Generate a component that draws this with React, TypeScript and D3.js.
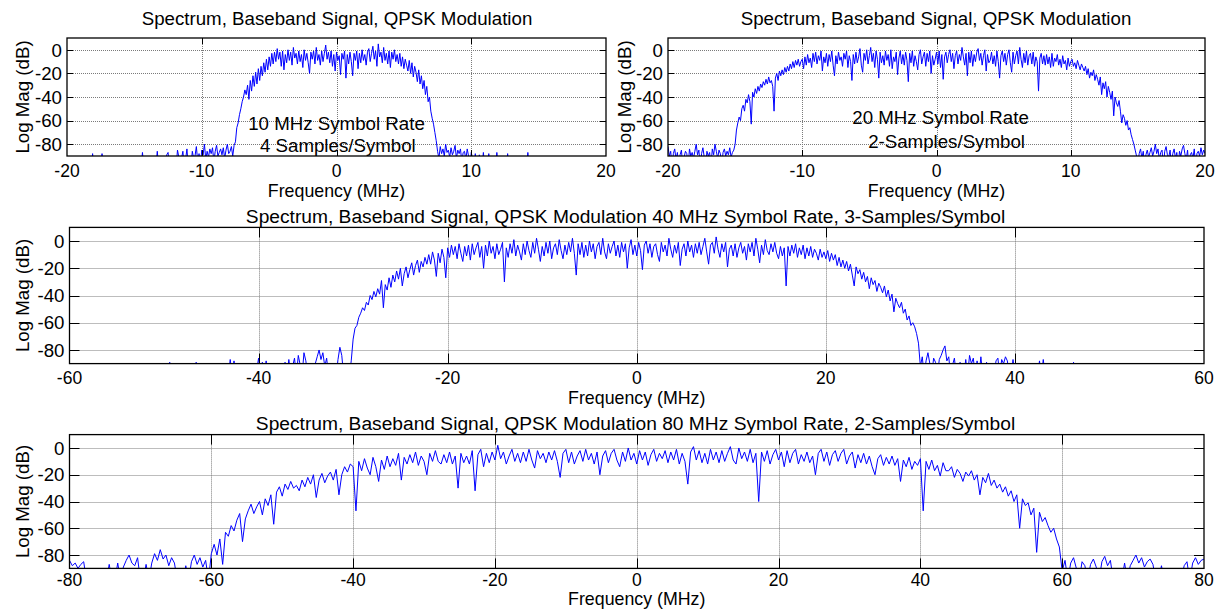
import React from "react";
import * as d3 from "d3";

const FONT = "'Liberation Sans', Arial, Helvetica, sans-serif";
const FS = 18.7;
const XTICK_FS = 17.5;
const XLABEL_FS = 17.8;

const yTicks = [0, -20, -40, -60, -80];
const yDomain = [-90, 10];
const xTicksA = [-20, -10, 0, 10, 20];
const xTicks3 = [-60, -40, -20, 0, 20, 40, 60];
const xTicks4 = [-80, -60, -40, -20, 0, 20, 40, 60, 80];

const titleA = "Spectrum, Baseband Signal, QPSK Modulation";
const title3 = "Spectrum, Baseband Signal, QPSK Modulation 40 MHz Symbol Rate, 3-Samples/Symbol";
const title4 = "Spectrum, Baseband Signal, QPSK Modulation 80 MHz Symbol Rate, 2-Samples/Symbol";
const xLabel = "Frequency (MHz)";
const yLabel = "Log Mag (dB)";
const note1 = ["10 MHz Symbol Rate", "4 Samples/Symbol"];
const note2 = ["20 MHz Symbol Rate", "2-Samples/Symbol"];

// Panel 1: bins start at -18.5 MHz, 0.1 MHz spacing
const start1 = -18.5;
const bin1 = 0.1;
const mag1 = [
  -99, -99, -99, -99, -88, -99, -99, -99, -99, -99,
  -99, -88, -99, -99, -99, -99, -99, -99, -99, -99,
  -99, -99, -99, -99, -99, -99, -99, -99, -99, -99,
  -99, -99, -99, -99, -99, -99, -99, -99, -99, -99,
  -99, -87, -99, -99, -99, -99, -99, -99, -99, -99,
  -99, -99, -86, -99, -99, -99, -99, -99, -99, -89,
  -87, -99, -99, -99, -99, -99, -99, -85, -91, -99,
  -92, -86, -99, -93, -84, -99, -95, -99, -86, -92,
  -90, -82, -95, -88, -99, -85, -89, -80, -93, -86,
  -91, -84, -88, -83, -95, -86, -81, -90, -87, -84,
  -89, -83, -92, -85, -80, -88, -86, -82, -90, -81,
  -78, -66, -62, -55, -50, -44, -40, -34, -38, -30,
  -42, -26, -35, -22, -31, -19, -29, -16, -26, -14,
  -22, -11, -19, -8, -17, -6, -14, -3, -12, -2,
  -10, 1, -8, -2, -14, -1, -17, -4, -11, 0,
  -9, -2, -13, 2, -7, -3, -12, -1, -10, -4,
  -15, 0, -9, -3, -11, -20, -2, -8, -1, -12,
  2, -9, -4, -13, -1, -10, -3, 4, -8, -2,
  -11, -1, -14, -4, -18, -2, -9, -5, -21, -3,
  -8, -1, -24, -4, -12, -2, -10, -22, -3, -9,
  -1, -16, -3, -11, 0, -9, -4, -13, -2, 1,
  -10, -3, 3, -8, -1, -14, 5, -6, -2, -11,
  2, -9, -3, -12, -1, -15, -2, -8, 0, -10,
  -4, -12, -3, -14, -6, -16, -8, -13, -18, -9,
  -20, -11, -23, -14, -19, -27, -17, -29, -22, -33,
  -26, -38, -31, -44, -40, -52, -58, -63, -70, -77,
  -86, -92, -82, -88, -84, -90, -80, -87, -85, -91,
  -83, -89, -86, -81, -92, -85, -88, -84, -95, -87,
  -86, -93, -84, -90, -99, -87, -92, -99, -88, -99,
  -99, -89, -99, -99, -87, -99, -99, -99, -88, -99,
  -99, -99, -99, -99, -87, -99, -99, -99, -99, -99,
  -99, -99, -88, -99, -99, -99, -99, -99, -99, -99,
  -99, -99, -99, -99, -99, -99, -99, -87, -99, -99,
  -99, -99, -99, -99, -99, -99,
];

// Panel 2: bins start at -20 MHz, 0.1 MHz spacing
const start2 = -20;
const bin2 = 0.1;
const mag2 = [
  -82, -90, -86, -99, -88, -84, -93, -87, -99, -89,
  -85, -99, -91, -86, -88, -99, -84, -90, -87, -92,
  -86, -80, -89, -85, -99, -88, -83, -91, -99, -86,
  -90, -87, -99, -84, -89, -80, -86, -92, -85, -88,
  -99, -87, -84, -90, -86, -89, -83, -91, -87, -85,
  -80, -68, -62, -57, -60, -50, -47, -52, -42, -45,
  -38, -44, -63, -36, -40, -33, -37, -31, -35, -29,
  -32, -27, -30, -25, -29, -23, -28, -26, -31, -52,
  -24, -20, -26, -18, -22, -17, -21, -15, -19, -14,
  -18, -12, -16, -10, -15, -9, -13, -8, -14, -10,
  -8, -16, -6, -13, -4, -11, -7, -15, -3, -10,
  -2, -12, -5, -9, -1, -18, -6, -11, -3, -14,
  -4, -10, -1, -13, -22, -5, -12, -2, -9, -6,
  -14, -3, -8, -1, -15, -5, -10, -26, -4, -12,
  -2, -11, -6, 1, -13, -19, -3, -9, 0, -12,
  -5, 2, -10, -3, -15, -1, -8, -24, -2, -11,
  -5, -13, -1, -9, -4, -14, 0, -16, -6, -10,
  -2, -21, -7, -1, -12, -4, -13, -2, -9, -27,
  -3, -11, -1, -14, -5, -10, -17, -4, 0, -12,
  -6, -2, -14, -3, -10, -1, -20, -5, -13, -8,
  -2, -12, -1, -15, -4, -25, -6, -2, -11, -4,
  0, -10, -3, -16, -5, -1, -12, -4, -9, 2,
  -6, -13, -3, -22, -2, -11, -1, -14, -4, -10,
  -2, 1, -9, -3, -13, -5, 0, -18, -4, -11,
  -9, -2, -12, -5, -14, -1, -10, -24, -5, -1,
  -10, -3, -13, -4, 0, -11, -19, -2, -12, -5,
  -1, -12, 2, -8, -15, -3, -11, -1, -13, -5,
  -3, -12, -2, -14, -6, -10, -35, -7, -3, -12,
  -5, -13, -4, -12, -6, -15, -3, -14, -7, -10,
  -4, -13, -8, -15, -5, -12, -9, -17, -7, -14,
  -10, -8, -14, -11, -16, -9, -13, -17, -12, -15,
  -18, -14, -21, -16, -24, -19, -22, -17, -26, -21,
  -25, -30, -23, -38, -28, -33, -27, -40, -31, -36,
  -42, -35, -56, -40, -45, -48, -43, -52, -62, -55,
  -58, -64, -60, -68, -66, -72, -76, -80, -85, -90,
  -95, -88, -84, -92, -86, -99, -89, -85, -91, -87,
  -83, -90, -86, -80, -88, -84, -93, -87, -85, -99,
  -86, -82, -89, -91, -85, -99, -88, -84, -92, -87,
  -99, -86, -90, -84, -81, -88, -93, -85, -99, -89,
  -87, -92, -84, -99, -88, -86, -90, -83, -89, -85, -88,
];

// Panel 3: bins start at -50 MHz, 0.2 MHz spacing
const start3 = -50;
const bin3 = 0.2;
const mag3 = [
  -99, -99, -99, -89, -99, -99, -99, -99, -99, -99,
  -99, -99, -99, -99, -99, -99, -99, -89, -99, -99,
  -99, -99, -99, -99, -99, -99, -99, -99, -99, -99,
  -99, -99, -99, -99, -99, -87, -99, -88, -99, -99,
  -99, -99, -99, -99, -99, -99, -99, -99, -99, -95,
  -86, -99, -89, -99, -88, -99, -99, -99, -99, -99,
  -99, -99, -99, -99, -89, -99, -87, -99, -92, -86,
  -99, -84, -91, -99, -82, -88, -99, -99, -99, -99,
  -90, -85, -80, -87, -82, -92, -86, -99, -99, -99,
  -99, -99, -87, -78, -84, -99, -95, -99, -99, -88,
  -72, -64, -62, -56, -53, -49, -51, -45, -47, -40,
  -43, -37, -41, -35, -39, -29, -49, -32, -36, -27,
  -34, -25, -30, -22, -28, -20, -33, -24, -19, -27,
  -21, -16, -25, -18, -14, -23, -15, -19, -12, -17,
  -10, -17, -8, -14, -26, -9, -16, -6, -12, -27,
  -5, -12, -3, -10, -4, -13, -2, -9, -15, -4,
  -11, -3, -14, -2, -10, -5, -1, -12, -4, -20,
  -3, -11, 0, -9, -4, -13, -2, -10, -6, -1,
  -30, -5, -12, -2, -9, 1, -11, -3, -8, -14,
  -2, -10, 0, -7, -12, -1, -9, 2, -6, -15,
  -4, -11, -1, -9, 0, -13, -5, -2, -10, 1,
  -7, -13, -3, -10, -1, -8, 2, -9, -25, -2,
  -10, -1, -12, -3, -11, 0, -8, -2, -13, -4,
  -1, -10, 2, -8, -13, -2, -9, -4, 0, -11,
  -3, -12, -1, -8, -2, -20, -5, 1, -10, -3,
  -11, -1, -7, -21, -3, 0, -9, -2, -12, -4,
  -2, -10, -15, -1, -8, -3, -11, 2, -6, -12,
  -3, -9, -1, -18, -6, -2, -11, 0, -8, -3,
  -12, -2, -9, -1, -10, -4, 2, -8, -17, -3,
  -1, -9, 3, -6, -12, -2, -8, -1, -19, -6,
  -3, -11, -2, -12, -5, -1, -9, -4, -14, -2,
  -8, -1, -11, 2, -6, -16, -3, -10, 1, -7,
  -10, -2, -8, -1, -9, -13, -4, -11, -5, -33,
  -4, -11, -3, -9, -2, -12, -5, -10, -3, -13,
  -5, -11, -4, -12, -6, -9, -14, -6, -12, -8,
  -13, -7, -15, -9, -14, -10, -18, -12, -19, -14,
  -20, -15, -22, -17, -25, -33, -19, -24, -21, -28,
  -23, -30, -26, -35, -27, -32, -29, -37, -31, -34,
  -38, -33, -41, -36, -44, -39, -52, -42, -46, -49,
  -45, -53, -50, -58, -55, -62, -60, -63, -68, -75,
  -92, -85, -99, -88, -82, -90, -99, -86, -89, -99,
  -87, -84, -80, -77, -88, -85, -99, -91, -86, -99,
  -99, -89, -99, -99, -87, -99, -84, -90, -86, -99,
  -88, -99, -85, -99, -99, -89, -99, -99, -99, -99,
  -88, -86, -99, -87, -90, -85, -88, -99, -99, -87,
  -99, -99, -99, -99, -99, -99, -99, -99, -99, -99,
  -99, -99, -99, -88, -99, -87, -99, -99, -99, -99,
  -99, -99, -99, -99, -99, -99, -99, -99, -99, -99,
  -99, -89, -99, -99, -99, -99, -99, -99, -99, -99,
];

// Panel 4: bins start at -80 MHz, 0.4 MHz spacing
const start4 = -80;
const bin4 = 0.4;
const mag4 = [
  -84, -88, -86, -90, -87, -85, -99, -99, -99, -99,
  -99, -99, -99, -99, -87, -99, -99, -86, -99, -89,
  -84, -80, -86, -88, -82, -99, -99, -87, -99, -86,
  -79, -84, -76, -83, -80, -88, -82, -86, -99, -99,
  -99, -88, -99, -85, -80, -87, -82, -89, -84, -99,
  -79, -72, -80, -68, -87, -63, -66, -58, -62, -54,
  -49, -70, -53, -47, -42, -49, -44, -40, -50, -38,
  -43, -35, -57, -33, -29, -36, -27, -31, -25, -30,
  -28, -32, -24, -29, -22, -27, -20, -37, -24, -19,
  -26, -21, -18, -24, -16, -35, -20, -14, -18, -12,
  -14, -47, -10, -17, -8, -15, -20, -7, -14, -25,
  -9, -16, -6, -14, -8, -13, -4, -24, -7, -12,
  -5, -11, -3, -13, -6, -10, -20, -4, -10, -2,
  -10, -12, -5, -11, -3, -12, -6, -30, -4, -11,
  -6, -12, -2, -32, -5, -1, -14, -4, -11, -3,
  -9, 2, -8, -3, -12, -6, -1, -10, -4, -11,
  -3, -10, -1, -9, -15, -2, -8, -4, -11, -3,
  -9, -2, -10, -22, -4, -1, -11, -3, -12, -6,
  -2, -10, -1, -9, -4, -12, -3, -20, -6, -2,
  -11, -4, -1, -9, -14, -3, -10, 0, -9, -4,
  -12, -2, -9, -3, -13, -5, -1, -10, -4, -8,
  -2, -11, -3, -9, -1, -12, -4, -10, -27, -3,
  1, -9, -2, -11, -4, -12, -1, -9, -3, -11,
  -2, -10, -4, 1, -9, -12, 0, -8, -3, -10,
  -1, -11, -4, -40, -3, -10, -2, -12, -5, -1,
  -9, -3, -14, -2, -11, -4, -1, -12, -5, -10,
  -3, -11, -6, -20, -4, -1, -10, -3, -13, -5,
  -2, -10, -4, -1, -12, -6, -3, -15, -5, -11,
  -4, -12, -6, -14, -20, -8, -5, -13, -7, -12,
  -6, -13, -8, -25, -9, -14, -7, -16, -10, -13,
  -8, -47, -10, -16, -9, -17, -13, -21, -11, -17,
  -17, -14, -22, -16, -19, -25, -18, -21, -17, -24,
  -20, -35, -22, -26, -19, -28, -24, -30, -27, -33,
  -29, -36, -32, -40, -35, -60, -38, -43, -41, -50,
  -45, -78, -48, -55, -52, -58, -63, -60, -68, -74,
  -92, -84, -99, -86, -82, -90, -99, -85, -88, -99,
  -87, -83, -89, -99, -85, -81, -88, -84, -99, -90,
  -99, -99, -86, -99, -88, -84, -80, -86, -82, -89,
  -85, -83, -87, -99, -99, -88, -99, -99, -99, -99,
  -99, -99, -99, -88, -85, -99, -86, -82, -87, -84,
  -83,
];

type Note = { text: string; f: number; db: number };

type PanelProps = {
  id: string;
  left: number;
  right: number;
  top: number;
  bottom: number;
  xTicks: number[];
  start: number;
  bin: number;
  mag: number[];
  title: string;
  titleX: number;
  titleY: number;
  titleFs: number;
  tickLen: number;
  yLabelX: number;
  tickLabelDy: number;
  xLabelDy: number;
  notes?: Note[];
};

const snap = (v: number) => Math.round(v) + 0.5;

function Panel(p: PanelProps) {
  const xDom = [p.xTicks[0], p.xTicks[p.xTicks.length - 1]];
  const xs = d3.scaleLinear().domain(xDom).range([p.left, p.right]);
  const ys = d3.scaleLinear().domain(yDomain).range([p.bottom, p.top]);
  const line = d3
    .line<number>()
    .x((_d, i) => xs(p.start + i * p.bin))
    .y((d) => ys(d));
  const path = line(p.mag) || "";
  const inner = p.xTicks.slice(1, -1);
  const midY = (p.top + p.bottom) / 2;
  const gridStyle = { stroke: "#7a7a7a", strokeWidth: 1, strokeDasharray: "1 1" };
  return (
    <g>
      <defs>
        <clipPath id={p.id}>
          <rect x={p.left} y={p.top} width={p.right - p.left} height={p.bottom - p.top} />
        </clipPath>
      </defs>
      {inner.map((t) => (
        <line key={"gx" + t} x1={snap(xs(t))} x2={snap(xs(t))} y1={p.top} y2={p.bottom} {...gridStyle} />
      ))}
      {yTicks.map((t) => (
        <line key={"gy" + t} x1={p.left} x2={p.right} y1={snap(ys(t))} y2={snap(ys(t))} {...gridStyle} />
      ))}
      <path d={path} fill="none" stroke="#0000ff" strokeWidth={1} clipPath={`url(#${p.id})`} />
      {inner.map((t) => (
        <g key={"tx" + t}>
          <line x1={snap(xs(t))} x2={snap(xs(t))} y1={p.bottom} y2={p.bottom - p.tickLen} stroke="#000" strokeWidth={1} />
          <line x1={snap(xs(t))} x2={snap(xs(t))} y1={p.top} y2={p.top + p.tickLen} stroke="#000" strokeWidth={1} />
        </g>
      ))}
      {yTicks.map((t) => (
        <g key={"ty" + t}>
          <line x1={p.left} x2={p.left + p.tickLen} y1={snap(ys(t))} y2={snap(ys(t))} stroke="#000" strokeWidth={1} />
          <line x1={p.right} x2={p.right - p.tickLen} y1={snap(ys(t))} y2={snap(ys(t))} stroke="#000" strokeWidth={1} />
        </g>
      ))}
      <rect
        x={p.left}
        y={p.top}
        width={p.right - p.left}
        height={p.bottom - p.top}
        fill="none"
        stroke="#000"
        strokeWidth={1.3}
      />
      {p.xTicks.map((t) => (
        <text key={"lx" + t} x={xs(t)} y={p.bottom + p.tickLabelDy} textAnchor="middle" fontSize={XTICK_FS}>
          {t}
        </text>
      ))}
      {yTicks.map((t) => (
        <text key={"ly" + t} x={p.left - 5} y={ys(t) + 6.7} textAnchor="end">
          {t}
        </text>
      ))}
      <text x={p.titleX} y={p.titleY} textAnchor="middle" fontSize={p.titleFs}>
        {p.title}
      </text>
      <text x={xs(0)} y={p.bottom + p.xLabelDy} textAnchor="middle" fontSize={XLABEL_FS}>
        {xLabel}
      </text>
      <text transform={`translate(${p.yLabelX},${midY}) rotate(-90)`} textAnchor="middle">
        {yLabel}
      </text>
      {(p.notes || []).map((n, i) => (
        <text key={"n" + i} x={xs(n.f)} y={ys(n.db) + 6.7} textAnchor="middle">
          {n.text}
        </text>
      ))}
    </g>
  );
}

export default function App() {
  return (
    <svg
      width={1222}
      height={609}
      style={{ position: "absolute", left: 0, top: 0, background: "#fff" }}
      fontFamily={FONT}
      fontSize={FS}
      fill="#000"
    >
      <rect x={0} y={0} width={1222} height={609} fill="#fff" />
      <Panel
        id="c1"
        left={67}
        right={606}
        top={38}
        bottom={156}
        xTicks={xTicksA}
        start={start1}
        bin={bin1}
        mag={mag1}
        title={titleA}
        titleX={337}
        titleY={24.5}
        titleFs={FS}
        tickLen={6}
        yLabelX={28.5}
        tickLabelDy={20.5}
        xLabelDy={41}
        notes={[
          { text: note1[0], f: 0, db: -62 },
          { text: note1[1], f: 0.1, db: -81 },
        ]}
      />
      <Panel
        id="c2"
        left={668}
        right={1205}
        top={38}
        bottom={156}
        xTicks={xTicksA}
        start={start2}
        bin={bin2}
        mag={mag2}
        title={titleA}
        titleX={936}
        titleY={24.5}
        titleFs={FS}
        tickLen={6}
        yLabelX={631}
        tickLabelDy={20.5}
        xLabelDy={41}
        notes={[
          { text: note2[0], f: 0.3, db: -57.5 },
          { text: note2[1], f: 0.75, db: -77.5 },
        ]}
      />
      <Panel
        id="c3"
        left={69.5}
        right={1204}
        top={227.4}
        bottom={363.6}
        xTicks={xTicks3}
        start={start3}
        bin={bin3}
        mag={mag3}
        title={title3}
        titleX={625.5}
        titleY={223}
        titleFs={19.2}
        tickLen={10}
        yLabelX={28.5}
        tickLabelDy={20.5}
        xLabelDy={40.5}
      />
      <Panel
        id="c4"
        left={69.5}
        right={1204}
        top={434.6}
        bottom={568.4}
        xTicks={xTicks4}
        start={start4}
        bin={bin4}
        mag={mag4}
        title={title4}
        titleX={635.5}
        titleY={430}
        titleFs={19.2}
        tickLen={10}
        yLabelX={28.5}
        tickLabelDy={17.3}
        xLabelDy={37}
      />
    </svg>
  );
}
